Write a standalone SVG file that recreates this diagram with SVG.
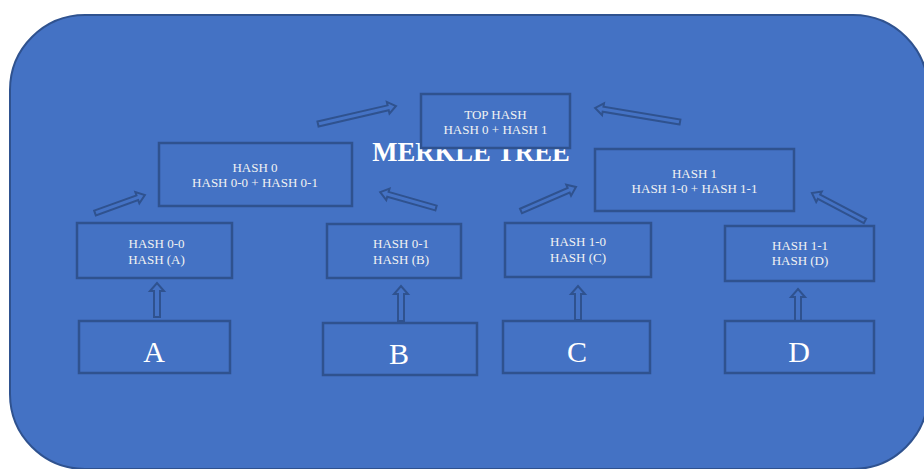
<svg xmlns="http://www.w3.org/2000/svg" width="924" height="469" viewBox="0 0 924 469">
<style>
.bg{fill:#4472C4;stroke:#2F528F;stroke-width:2}
.box{fill:#4472C4;stroke:#2F528F;stroke-width:2.5}
.arr{fill:#4472C4;stroke:#2F528F;stroke-width:2;stroke-linejoin:miter}
.t{font-family:"Liberation Serif","Times New Roman",serif;font-size:13px;fill:#F2F2F2;text-anchor:middle}
.big{font-family:"Liberation Serif","Times New Roman",serif;font-size:30px;fill:#FFFFFF;text-anchor:middle}
.title{font-family:"Liberation Serif","Times New Roman",serif;font-size:26.7px;font-weight:bold;fill:#FFFFFF;text-anchor:middle}
</style>
<rect class="bg" x="10" y="15" width="918" height="454" rx="75" ry="75"/>
<text class="title" x="471" y="161">MERKLE TREE</text>
<g id="connectors">
<polygon class="arr" transform="translate(95,213) rotate(-19.8)" points="0,-2.5 45,-2.5 45,-6 53,0 45,6 45,2.5 0,2.5"/>
<polygon class="arr" transform="translate(436,208) rotate(-164.1)" points="0,-2.5 50,-2.5 50,-6 58,0 50,6 50,2.5 0,2.5"/>
<polygon class="arr" transform="translate(318,124) rotate(-13)" points="0,-2.5 72,-2.5 72,-6 80,0 72,6 72,2.5 0,2.5"/>
<polygon class="arr" transform="translate(680,122) rotate(-170.6)" points="0,-2.5 78,-2.5 78,-6 86,0 78,6 78,2.5 0,2.5"/>
<polygon class="arr" transform="translate(521,211) rotate(-23.6)" points="0,-2.5 52,-2.5 52,-6 60,0 52,6 52,2.5 0,2.5"/>
<polygon class="arr" transform="translate(865,221) rotate(-152.2)" points="0,-2.5 52,-2.5 52,-6 60,0 52,6 52,2.5 0,2.5"/>
<polygon class="arr" transform="translate(157,317) rotate(-90)" points="0,-3 26,-3 26,-7 34,0 26,7 26,3 0,3"/>
<polygon class="arr" transform="translate(401,321) rotate(-90)" points="0,-3 27,-3 27,-7 35,0 27,7 27,3 0,3"/>
<polygon class="arr" transform="translate(578,320) rotate(-90)" points="0,-3 26,-3 26,-7 34,0 26,7 26,3 0,3"/>
<polygon class="arr" transform="translate(798,325) rotate(-90)" points="0,-3 28,-3 28,-7 36,0 28,7 28,3 0,3"/>
</g>
<g id="top">
<rect class="box" x="421" y="94" width="149" height="54"/>
<text class="t" x="495.5" y="119">TOP HASH</text>
<text class="t" x="495.5" y="134">HASH 0 + HASH 1</text>
</g>
<g id="hash0">
<rect class="box" x="159" y="143" width="193" height="63"/>
<text class="t" x="255" y="172">HASH 0</text>
<text class="t" x="255" y="187">HASH 0-0 + HASH 0-1</text>
</g>
<g id="hash1">
<rect class="box" x="595" y="149" width="199" height="62"/>
<text class="t" x="694.5" y="178">HASH 1</text>
<text class="t" x="694.5" y="193">HASH 1-0 + HASH 1-1</text>
</g>
<g id="hash00">
<rect class="box" x="77" y="223" width="155" height="55"/>
<text class="t" x="156.5" y="248">HASH 0-0</text>
<text class="t" x="156.5" y="264">HASH (A)</text>
</g>
<g id="hash01">
<rect class="box" x="327" y="224" width="134" height="54"/>
<text class="t" x="401" y="248">HASH 0-1</text>
<text class="t" x="401" y="264">HASH (B)</text>
</g>
<g id="hash10">
<rect class="box" x="505" y="223" width="146" height="54"/>
<text class="t" x="578" y="246">HASH 1-0</text>
<text class="t" x="578" y="262">HASH (C)</text>
</g>
<g id="hash11">
<rect class="box" x="725" y="226" width="149" height="55"/>
<text class="t" x="800" y="250">HASH 1-1</text>
<text class="t" x="800" y="265">HASH (D)</text>
</g>
<g id="A">
<rect class="box" x="79" y="321" width="151" height="52"/>
<text class="big" x="154" y="362">A</text>
</g>
<g id="B">
<rect class="box" x="323" y="323" width="154" height="52"/>
<text class="big" x="399" y="364">B</text>
</g>
<g id="C">
<rect class="box" x="503" y="321" width="147" height="52"/>
<text class="big" x="577" y="362">C</text>
</g>
<g id="D">
<rect class="box" x="725" y="321" width="149" height="52"/>
<text class="big" x="799" y="362">D</text>
</g>
</svg>
